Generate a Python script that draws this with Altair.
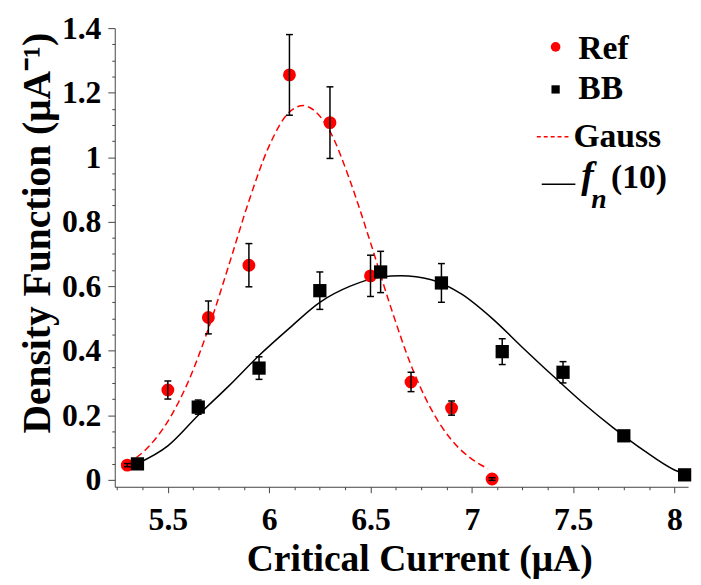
import altair as alt
import pandas as pd

# ---- data ----
ref_x = [5.3, 5.5, 5.7, 5.9, 6.1, 6.3, 6.5, 6.7, 6.9, 7.1]
ref_y = [0.045, 0.278, 0.503, 0.665, 1.255, 1.107, 0.632, 0.303, 0.222, 0.002]
ref_err = [0.005, 0.028, 0.051, 0.067, 0.125, 0.111, 0.064, 0.030, 0.022, 0.004]

bb_x = [5.35, 5.65, 5.95, 6.25, 6.55, 6.85, 7.15, 7.45, 7.75, 8.05]
bb_y = [0.049, 0.225, 0.346, 0.586, 0.644, 0.610, 0.397, 0.333, 0.136, 0.015]
bb_err = [0.005, 0.022, 0.035, 0.058, 0.064, 0.060, 0.040, 0.033, 0.008, 0.005]

gauss_x = [5.30, 5.40, 5.50, 5.60, 5.70, 5.80, 5.90, 6.00, 6.10, 6.17,
           6.20, 6.30, 6.40, 6.50, 6.60, 6.70, 6.80, 6.90, 7.00, 7.08]
gauss_y = [0.050, 0.099, 0.181, 0.303, 0.468, 0.663, 0.864, 1.035, 1.140, 1.160,
           1.154, 1.080, 0.925, 0.735, 0.535, 0.355, 0.218, 0.123, 0.064, 0.034]

fn_x = [5.35, 5.50, 5.65, 5.80, 5.95, 6.10, 6.25, 6.40, 6.55, 6.65,
        6.80, 6.95, 7.10, 7.25, 7.40, 7.55, 7.70, 7.85, 8.00, 8.05]
fn_y = [0.050, 0.105, 0.200, 0.290, 0.385, 0.470, 0.550, 0.600, 0.628, 0.632,
        0.620, 0.575, 0.500, 0.410, 0.322, 0.237, 0.160, 0.090, 0.030, 0.017]

x_ticks = [5.25 + 0.125 * i for i in range(23)]
y_ticks = [round(0.05 * i, 2) for i in range(29)]

legend_labels = ["Ref", "BB", "Gauss"]
fn_parts = ["f", "n", "(10)"]

x_title = "Critical Current (μA)"
y_title = "Density Function (μA⁻¹)"

# ---- tables ----
ref = pd.DataFrame({"x": ref_x, "y": ref_y, "e": ref_err})
ref["lo"] = ref["y"] - ref["e"]
ref["hi"] = ref["y"] + ref["e"]
bb = pd.DataFrame({"x": bb_x, "y": bb_y, "e": bb_err})
bb["lo"] = bb["y"] - bb["e"]
bb["hi"] = bb["y"] + bb["e"]
gauss = pd.DataFrame({"x": gauss_x, "y": gauss_y})
fn = pd.DataFrame({"x": fn_x, "y": fn_y})
dummy = pd.DataFrame({"k": [0]})

FONT = "Liberation Serif"
AX = "#444444"

xscale = alt.Scale(domain=[5.238, 8.067], nice=False, zero=False)
yscale = alt.Scale(domain=[-0.022, 1.4], nice=False, zero=False)

xaxis = alt.Axis(
    values=x_ticks,
    labelExpr="abs(datum.value*2 - round(datum.value*2)) < 0.01 ? format(datum.value, '.1~f') : ''",
    tickSize={"condition": {"test": "abs(datum.value*2 - round(datum.value*2)) < 0.01", "value": 6}, "value": 3},
    labelPadding=12, labelFont=FONT, labelFontSize=32, labelFontWeight="bold", labelColor="black",
    labelOverlap=False, labelFlush=False,
    title=x_title, titleFont=FONT, titleFontSize=38, titleFontWeight="bold", titleColor="black",
    titleX=308, titleY=85, titleBaseline="alphabetic", titleAlign="center",
    grid=False, domainColor=AX, tickColor=AX, domainWidth=1, tickWidth=1,
)
yaxis = alt.Axis(
    values=y_ticks,
    labelExpr="abs(datum.value*5 - round(datum.value*5)) < 0.01 ? format(datum.value, '.1~f') : ''",
    tickSize={"condition": {"test": "abs(datum.value*5 - round(datum.value*5)) < 0.01", "value": 7}, "value": 3},
    labelPadding=7, labelFont=FONT, labelFontSize=32, labelFontWeight="bold", labelColor="black",
    labelOverlap=False, labelFlush=False,
    title=y_title, titleFont=FONT, titleFontSize=40, titleFontWeight="bold", titleColor="black",
    titleAngle=270, titleX=-66, titleY=207, titleBaseline="alphabetic", titleAlign="center",
    grid=False, domainColor=AX, tickColor=AX, domainWidth=1, tickWidth=1,
)


def X(f="x"):
    return alt.X(f"{f}:Q", scale=xscale, axis=xaxis)


def Y(f="y"):
    return alt.Y(f"{f}:Q", scale=yscale, axis=yaxis)


gauss_line = alt.Chart(gauss).mark_line(
    color="#ff0000", strokeDash=[7, 4], strokeWidth=1.5, interpolate="monotone"
).encode(x=X(), y=Y())
fn_line = alt.Chart(fn).mark_line(
    color="black", strokeWidth=1.5, interpolate="monotone"
).encode(x=X(), y=Y())

ref_pts = alt.Chart(ref).mark_point(
    shape="circle", filled=True, size=170, color="#ff0000", opacity=1
).encode(x=X(), y=Y())
bb_pts = alt.Chart(bb).mark_square(size=180, color="black", opacity=1).encode(x=X(), y=Y())


def errbars(df):
    stem = alt.Chart(df).mark_rule(color="black", strokeWidth=1.5).encode(
        x=X(), y=Y("lo"), y2=alt.Y2("hi:Q"))
    cap_lo = alt.Chart(df).mark_tick(color="black", thickness=1.5, size=7, orient="horizontal",
                                     opacity=1).encode(x=X(), y=Y("lo"))
    cap_hi = alt.Chart(df).mark_tick(color="black", thickness=1.5, size=7, orient="horizontal",
                                     opacity=1).encode(x=X(), y=Y("hi"))
    return [stem, cap_lo, cap_hi]


def ltext(txt, x, y, size=34, style="normal"):
    return alt.Chart(dummy).mark_text(
        text=txt, align="left", baseline="alphabetic", font=FONT, fontSize=size,
        fontWeight="bold", fontStyle=style, color="black"
    ).encode(x=alt.value(x), y=alt.value(y))


legend = [
    alt.Chart(dummy).mark_point(shape="circle", filled=True, size=95, color="#ff0000", opacity=1)
    .encode(x=alt.value(446), y=alt.value(19)),
    ltext(legend_labels[0], 469, 31),
    alt.Chart(dummy).mark_square(size=70, color="black", opacity=1)
    .encode(x=alt.value(446), y=alt.value(62)),
    ltext(legend_labels[1], 469, 72),
    alt.Chart(dummy).mark_rule(color="#ff0000", strokeDash=[4, 3], strokeWidth=1.5)
    .encode(x=alt.value(427), x2=alt.value(461), y=alt.value(110)),
    ltext(legend_labels[2], 464, 120),
    alt.Chart(dummy).mark_rule(color="black", strokeWidth=1.5)
    .encode(x=alt.value(432), x2=alt.value(466), y=alt.value(158)),
    ltext(fn_parts[0], 472, 162, 38, "italic"),
    ltext(fn_parts[1], 482, 182, 28, "italic"),
    ltext(fn_parts[2], 502, 162, 34),
]

chart = alt.layer(
    gauss_line, fn_line, ref_pts, bb_pts, *errbars(ref), *errbars(bb), *legend
).properties(
    width=580, height=464,
    padding={"left": 108, "top": 17, "right": 5, "bottom": 96},
    autosize=alt.AutoSizeParams(type="none"),
    background="white",
).configure_view(stroke=None)

chart.save("out.html", embed_options={"renderer": "svg", "actions": False})
